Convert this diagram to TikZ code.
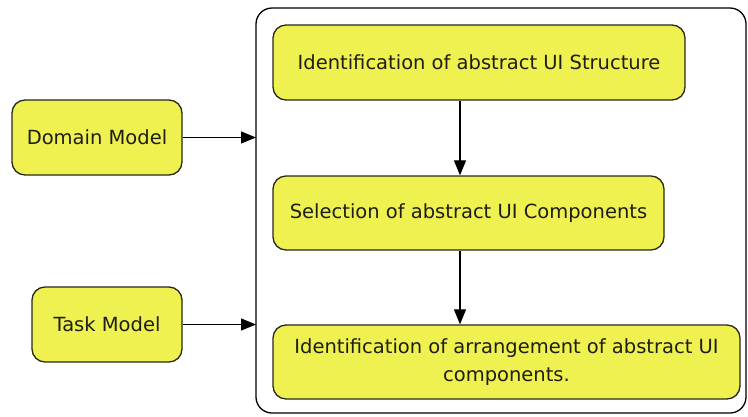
\documentclass[tikz,border=0pt]{standalone}
\usepackage{fontspec}
\setmainfont{DejaVu Sans}
\usetikzlibrary{arrows.meta}
\definecolor{boxfill}{RGB}{238,241,80}
\definecolor{boxline}{RGB}{40,40,25}
\definecolor{inktext}{RGB}{30,30,20}
\tikzset{
  stage/.style={draw=boxline, line width=1.3pt, fill=boxfill, rounded corners=13pt,
    font=\fontsize{19.5}{27.5}\selectfont, text=inktext, align=center, inner sep=0pt},
  link/.style={line width=1.1pt, -{Triangle[length=15pt,width=12pt]}}
}
\begin{document}
\begin{tikzpicture}[x=1pt,y=-1pt]
\useasboundingbox (0,0) rectangle (748,416);
% enclosing frame
\draw[line width=1.3pt, rounded corners=16pt] (256,8) rectangle (746,413);
% input models
\node[stage, minimum width=170pt, minimum height=75pt] (dom) at (97,137.5) {Domain Model};
\node[stage, minimum width=150pt, minimum height=75pt] (task) at (107,324.5) {Task Model};
% process steps
\node[stage, minimum width=412pt, minimum height=75pt] (s1) at (479,62.5) {Identification of abstract UI Structure};
\node[stage, minimum width=391pt, minimum height=74pt] (s2) at (468.5,213) {Selection of abstract UI Components};
\node[stage, minimum width=467pt, minimum height=74pt] (s3) at (506.5,362) {Identification of arrangement of abstract UI\\components.};
% frame entry points
\coordinate (inD) at (256,137.5);
\coordinate (inT) at (256,324.5);
\draw[link] (dom.east) -- (inD);
\draw[link] (task.east) -- (inT);
\draw[link] (s1.south -| 460,0) -- (s2.north -| 460,0);
\draw[link] (s2.south -| 460,0) -- (s3.north -| 460,0);
\end{tikzpicture}
\end{document}
